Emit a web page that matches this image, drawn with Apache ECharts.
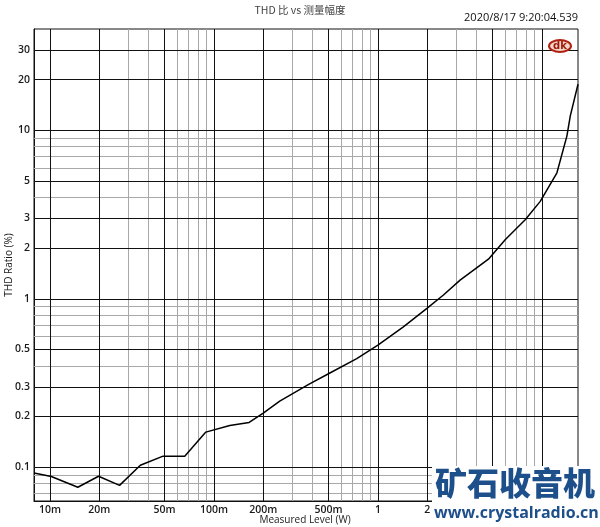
<!DOCTYPE html>
<html>
<head>
<meta charset="utf-8">
<script src="https://cdn.jsdelivr.net/npm/echarts@6/dist/echarts.min.js"></script>
<style>
html,body{margin:0;padding:0;background:#fff;}
#chart{width:600px;height:527px;}
</style>
</head>
<body>
<div id="chart"></div>
<script>
// ---- data ----
const levelW = [0.008, 0.0102, 0.0148, 0.0198, 0.0266, 0.0356, 0.049, 0.0664, 0.0893, 0.125, 0.164, 0.2, 0.252, 0.376, 0.503, 0.743, 1.0, 1.43, 1.99, 2.51, 3.17, 4.72, 5.97, 7.91, 9.77, 12.35, 14.2, 14.9, 16.6];
const thdPct = [0.0925, 0.088, 0.076, 0.0884, 0.078, 0.1028, 0.1163, 0.116, 0.1616, 0.177, 0.1845, 0.2096, 0.247, 0.309, 0.360, 0.4415, 0.530, 0.681, 0.878, 1.053, 1.29, 1.72, 2.24, 2.95, 3.79, 5.60, 9.25, 12.2, 18.8];

const xTickValues = [0.01, 0.02, 0.05, 0.1, 0.2, 0.5, 1, 2, 5, 10];
const xTickLabels = ['10m', '20m', '50m', '100m', '200m', '500m', '1', '2', '5', '10'];
const yTickValues = [0.1, 0.2, 0.3, 0.5, 1, 2, 3, 5, 10, 20, 30];
const yTickLabels = ['0.1', '0.2', '0.3', '0.5', '1', '2', '3', '5', '10', '20', '30'];

const xMajorGrid = [0.01, 0.02, 0.05, 0.1, 0.2, 0.5, 1, 2, 5, 10];
const xMinorGrid = [0.009, 0.03, 0.04, 0.06, 0.07, 0.08, 0.09, 0.3, 0.4, 0.6, 0.7, 0.8, 0.9, 3, 4, 6, 7, 8, 9];
const yMajorGrid = [0.1, 0.2, 0.3, 0.5, 1, 2, 3, 5, 10, 20, 30];
const yMinorGrid = [0.07, 0.08, 0.09, 0.4, 0.6, 0.7, 0.8, 0.9, 4, 6, 7, 8, 9];

const xRange = [0.008, 16.6];
const yRange = [0.063, 40];

const titleText = 'THD 比 vs 测量幅度';
const stampText = '2020/8/17 9:20:04.539';
const xName = 'Measured Level (W)';
const yName = 'THD Ratio (%)';
const wmText = '矿石收音机';
const wmUrl = 'www.crystalradio.cn';

// ---- build ----
function nearestLabel(v, vals, labels) {
  let best = 0, bd = Infinity;
  for (let i = 0; i < vals.length; i++) {
    const d = Math.abs(Math.log10(v) - Math.log10(vals[i]));
    if (d < bd) { bd = d; best = i; }
  }
  return labels[best];
}
const lightStyle = { color: '#a8a8a8', width: 1, type: 'solid' };
const darkStyle = { color: '#111', width: 1, type: 'solid' };
const gridLines = []
  .concat(xMinorGrid.map(v => ({ xAxis: v, lineStyle: lightStyle })))
  .concat(yMinorGrid.map(v => ({ yAxis: v, lineStyle: lightStyle })))
  .concat(xMajorGrid.map(v => ({ xAxis: v, lineStyle: darkStyle })))
  .concat(yMajorGrid.map(v => ({ yAxis: v, lineStyle: darkStyle })));

const labelFont = { fontFamily: 'Open Sans', fontSize: 10.5, fontWeight: 600, color: '#1a1a1a' };

const chart = echarts.init(document.getElementById('chart'), null, { renderer: 'canvas' });
chart.setOption({
  animation: false,
  backgroundColor: '#fff',
  title: {
    text: titleText, left: 'center', top: 0,
    textStyle: { fontFamily: 'Noto Sans CJK SC', fontSize: 10.5, fontWeight: 'normal', color: '#444' }
  },
  grid: {
    left: 34, right: 22, top: 29, bottom: 26,
    show: true, borderColor: '#111', borderWidth: 1, backgroundColor: 'transparent',
    outerBoundsMode: 'none', containLabel: false
  },
  xAxis: {
    type: 'log', logBase: 10, min: xRange[0], max: xRange[1],
    axisLine: { show: true, lineStyle: { color: '#111', width: 1 } },
    axisTick: { show: false },
    splitLine: { show: false },
    minorSplitLine: { show: false },
    axisLabel: Object.assign({
      customValues: xTickValues, margin: 4,
      formatter: v => nearestLabel(v, xTickValues, xTickLabels)
    }, labelFont)
  },
  yAxis: {
    type: 'log', logBase: 10, min: yRange[0], max: yRange[1],
    axisLine: { show: true, lineStyle: { color: '#111', width: 1 } },
    axisTick: { show: false },
    splitLine: { show: false },
    axisLabel: Object.assign({
      customValues: yTickValues, margin: 4,
      formatter: v => nearestLabel(v, yTickValues, yTickLabels)
    }, labelFont)
  },
  series: [
    {
      type: 'line', name: 'grid', data: [], silent: true, z: 1,
      markLine: {
        silent: true, symbol: ['none', 'none'], animation: false,
        label: { show: false }, emphasis: { disabled: true },
        data: gridLines
      }
    },
    {
      type: 'line', name: 'THD', z: 5,
      data: levelW.map((x, i) => [x, thdPct[i]]),
      showSymbol: false, smooth: false,
      lineStyle: { color: '#000', width: 1.5 }
    }
  ],
  graphic: [
    { type: 'text', x: 305, y: 520, z: 10,
      style: { text: xName, fill: '#1a1a1a', font: '10px "Open Sans"', textAlign: 'center', textVerticalAlign: 'middle' } },
    { type: 'text', x: 9, y: 265, rotation: Math.PI / 2, z: 10,
      style: { text: yName, fill: '#1a1a1a', font: '10px "Open Sans"', textAlign: 'center', textVerticalAlign: 'middle' } },
    { type: 'text', right: 22, top: 12, z: 10,
      style: { text: stampText, fill: '#111', font: '11px "Open Sans"', textAlign: 'right' } },
    { type: 'ellipse', shape: { cx: 560, cy: 46, rx: 11, ry: 6 }, z: 10,
      style: { fill: '#f3d6c8', stroke: '#b02010', lineWidth: 2 } },
    { type: 'text', x: 560, y: 46, z: 11,
      style: { text: 'dk', fill: '#9a1a0a', font: 'bold 10px "DejaVu Sans"', textAlign: 'center', textVerticalAlign: 'middle' } },
    { type: 'rect', shape: { x: 432, y: 466, width: 168, height: 61 }, z: 20,
      style: { fill: '#fff' } },
    { type: 'text', x: 435, y: 483, z: 21,
      style: { text: wmText, fill: '#1d4f8b', font: '900 32px "Noto Sans CJK SC"', textVerticalAlign: 'middle' } },
    { type: 'text', x: 434, y: 513, z: 21,
      style: { text: wmUrl, fill: '#1d4f8b', font: 'bold 16px "Open Sans"', textVerticalAlign: 'middle' } }
  ]
});
</script>
</body>
</html>
